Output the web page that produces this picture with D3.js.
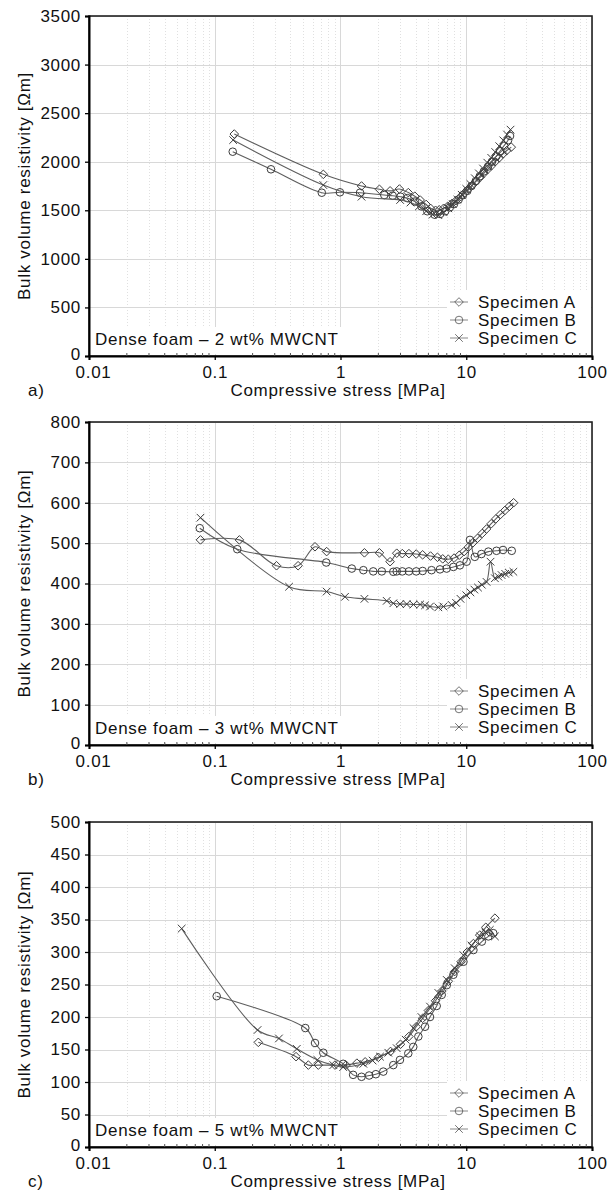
<!DOCTYPE html>
<html>
<head>
<meta charset="utf-8">
<script src="https://cdn.jsdelivr.net/npm/d3@7"></script>
<style>
  body { margin: 0; background: #fff; }
  svg text { font-family: "Liberation Sans", Arial, Helvetica, sans-serif; font-size: 17px; letter-spacing: 0.7px; fill: #111; }
</style>
</head>
<body>
<div id="chart"></div>
<script>
// x tick labels (log axis)
var xTicks = [0.01, 0.1, 1, 10, 100];
var xTickLabels = ["0.01", "0.1", "1", "10", "100"];
var seriesNames = ["Specimen A", "Specimen B", "Specimen C"];

// panel a) 2 wt%
var a_xA = [0.143, 0.73, 1.47, 2.04, 2.48, 2.94, 3.46, 3.9, 4.3, 4.8, 5.2, 5.7, 6.1, 6.6, 7.1, 7.7, 8.3, 9.0, 9.7, 10.4, 11.2, 12.0, 12.9, 13.8, 14.8, 15.9, 17.0, 18.3, 19.6, 21.0, 22.8];
var a_yA = [2285, 1870, 1750, 1716, 1700, 1719, 1682, 1645, 1606, 1560, 1520, 1500, 1505, 1520, 1540, 1570, 1600, 1640, 1680, 1720, 1760, 1800, 1840, 1880, 1920, 1960, 2000, 2040, 2080, 2115, 2150];
var a_xB = [0.139, 0.28, 0.71, 0.99, 1.43, 2.23, 2.6, 3.0, 3.4, 3.9, 4.4, 4.9, 5.6, 6.2, 6.8, 7.4, 8.0, 8.7, 9.4, 10.2, 11.0, 11.9, 12.8, 13.8, 14.9, 16.0, 17.3, 18.6, 20.0, 21.5, 22.3];
var a_yB = [2103, 1922, 1681, 1685, 1681, 1657, 1650, 1640, 1625, 1590, 1540, 1490, 1455, 1462, 1490, 1530, 1565, 1610, 1655, 1700, 1750, 1800, 1850, 1900, 1950, 2000, 2055, 2110, 2165, 2220, 2265];
var a_xC = [0.14, 0.73, 1.47, 2.98, 3.6, 4.2, 4.8, 5.4, 6.0, 6.6, 7.2, 7.8, 8.5, 9.2, 10.0, 10.8, 11.7, 12.6, 13.6, 14.7, 15.8, 17.0, 18.3, 19.7, 21.1, 22.5];
var a_yC = [2223, 1760, 1640, 1606, 1580, 1540, 1490, 1455, 1450, 1480, 1520, 1565, 1610, 1660, 1720, 1770, 1830, 1880, 1930, 1990, 2040, 2100, 2160, 2220, 2280, 2330];

// panel b) 3 wt%
var b_xA = [0.077, 0.157, 0.31, 0.46, 0.627, 0.776, 1.55, 2.04, 2.48, 2.8, 3.1, 3.5, 4.0, 4.5, 5.2, 5.9, 6.5, 7.2, 8.0, 8.8, 9.6, 10.4, 11.3, 12.3, 13.4, 14.5, 15.8, 17.2, 18.7, 20.3, 22.0, 23.8];
var b_yA = [508, 508, 444, 444, 491, 479, 476, 476, 454, 475, 474, 474, 473, 471, 468, 465, 461, 460, 463, 470, 479, 490, 501, 512, 524, 535, 548, 560, 571, 581, 591, 600];
var b_xB = [0.076, 0.151, 0.77, 1.23, 1.52, 1.82, 2.13, 2.63, 2.8, 3.1, 3.5, 4.0, 4.5, 5.3, 6.18, 6.98, 7.9, 8.9, 10.07, 10.7, 11.7, 13.2, 15.0, 17.4, 19.6, 23.0];
var b_yB = [537, 485, 452, 437, 433, 430, 430, 429, 430, 430, 430, 430, 431, 433, 435, 437, 441, 445, 454, 508, 466, 473, 479, 481, 483, 481];
var b_xC = [0.077, 0.39, 0.776, 1.086, 1.55, 2.33, 2.63, 2.98, 3.36, 3.8, 4.3, 4.7, 5.15, 6.0, 6.58, 7.66, 8.3, 9.0, 10.0, 10.8, 11.6, 12.4, 13.3, 14.5, 15.6, 16.9, 18.0, 19.1, 20.4, 21.8, 23.7];
var b_yC = [563, 392, 380, 367, 362, 357, 351, 349, 349, 348, 348, 346, 343, 341, 343, 347, 352, 362, 371, 378, 385, 390, 397, 404, 454, 413, 417, 421, 424, 427, 429];

// panel c) 5 wt%
var c_xA = [0.222, 0.443, 0.555, 0.666, 0.904, 1.106, 1.35, 1.57, 2.0, 2.5, 3.0, 3.5, 4.0, 4.5, 5.0, 5.7, 6.4, 7.2, 8.1, 9.1, 10.2, 11.4, 12.8, 14.3, 16.9];
var c_yA = [161, 139, 126, 126, 126, 126, 129, 131, 138, 147, 158, 170, 185, 198, 210, 225, 240, 255, 270, 285, 300, 313, 326, 338, 352];
var c_xB = [0.1036, 0.525, 0.627, 0.73, 1.05, 1.26, 1.47, 1.69, 1.91, 2.19, 2.63, 2.97, 3.46, 3.79, 4.16, 4.7, 5.15, 5.82, 6.38, 7.0, 7.9, 9.5, 11.4, 13.3, 15.0, 16.4];
var c_yB = [232, 183, 160, 145, 128, 111, 108, 110, 112, 116, 126, 134, 144, 154, 170, 185, 200, 217, 234, 249, 265, 285, 303, 316, 324, 329];
var c_xC = [0.0546, 0.219, 0.324, 0.449, 0.655, 0.877, 1.05, 1.52, 1.8, 2.06, 2.4, 2.8, 3.3, 3.8, 4.4, 5.15, 6.0, 7.0, 8.1, 9.5, 11.0, 12.9, 14.2, 15.4, 16.9];
var c_yC = [336, 180, 167, 151, 134, 126, 123, 128, 133, 139, 145, 152, 165, 183, 200, 216, 237, 257, 275, 295, 310, 324, 330, 334, 324];

var panels = [
  { top: 16, bottom: 356, yMax: 3500, yStep: 500, tag: "a)", note: "Dense foam \u2013 2 wt% MWCNT",
    series: [[a_xA, a_yA], [a_xB, a_yB], [a_xC, a_yC]] },
  { top: 422, bottom: 745, yMax: 800, yStep: 100, tag: "b)", note: "Dense foam \u2013 3 wt% MWCNT",
    series: [[b_xA, b_yA], [b_xB, b_yB], [b_xC, b_yC]] },
  { top: 822, bottom: 1147, yMax: 500, yStep: 50, tag: "c)", note: "Dense foam \u2013 5 wt% MWCNT",
    series: [[c_xA, c_yA], [c_xB, c_yB], [c_xC, c_yC]] }
];

var width = 612, height = 1196;
var left = 89, right = 592;
var lineColor = "#5e5e5e", markColor = "#3c3c3c";

var svg = d3.select("#chart").append("svg")
    .attr("width", width)
    .attr("height", height);

var x = d3.scaleLog().domain([0.01, 100]).range([left, right]);

// minor positions 2..9 per decade
var minorX = [];
[0.01, 0.1, 1, 10].forEach(function (d) {
    for (var k = 2; k <= 9; k++) minorX.push(d * k);
});

function drawMarker(g, type, cx, cy) {
    if (type === 0) {
        g.append("path")
            .attr("d", "M" + cx + "," + (cy - 4.3) + "L" + (cx + 4.3) + "," + cy + "L" + cx + "," + (cy + 4.3) + "L" + (cx - 4.3) + "," + cy + "Z")
            .attr("fill", "none").attr("stroke", markColor).attr("stroke-width", 1);
    } else if (type === 1) {
        g.append("circle").attr("cx", cx).attr("cy", cy).attr("r", 3.8)
            .attr("fill", "none").attr("stroke", markColor).attr("stroke-width", 1);
    } else {
        g.append("path")
            .attr("d", "M" + (cx - 3.8) + "," + (cy - 3.8) + "L" + (cx + 3.8) + "," + (cy + 3.8) + "M" + (cx - 3.8) + "," + (cy + 3.8) + "L" + (cx + 3.8) + "," + (cy - 3.8))
            .attr("fill", "none").attr("stroke", markColor).attr("stroke-width", 1);
    }
}

function styleAxis(ax) {
    ax.attr("font-size", null).attr("font-family", null);
    ax.select(".domain").attr("stroke", "#000").attr("stroke-width", 2);
    ax.selectAll("line").attr("stroke", "#000").attr("stroke-width", 1.3);
    ax.selectAll("text").style("font-size", "17px").attr("fill", "#111");
}

panels.forEach(function (p) {
    var y = d3.scaleLinear().domain([0, p.yMax]).range([p.bottom, p.top]);
    var yTicks = d3.range(0, p.yMax + 1, p.yStep);
    var g = svg.append("g");

    // grid
    g.selectAll(".minor").data(minorX).enter().append("line")
        .attr("x1", function (d) { return Math.round(x(d)) + 0.5; })
        .attr("x2", function (d) { return Math.round(x(d)) + 0.5; })
        .attr("y1", p.top).attr("y2", p.bottom)
        .attr("stroke", "#e0e0e0").attr("stroke-dasharray", "1,2");
    g.selectAll(".major").data(xTicks).enter().append("line")
        .attr("x1", function (d) { return Math.round(x(d)) + 0.5; })
        .attr("x2", function (d) { return Math.round(x(d)) + 0.5; })
        .attr("y1", p.top).attr("y2", p.bottom)
        .attr("stroke", "#d8d8d8");
    g.selectAll(".hgrid").data(yTicks).enter().append("line")
        .attr("x1", left).attr("x2", right)
        .attr("y1", function (d) { return Math.round(y(d)) + 0.5; })
        .attr("y2", function (d) { return Math.round(y(d)) + 0.5; })
        .attr("stroke", "#d8d8d8");

    // note and legend backgrounds
    g.append("rect").attr("x", left + 2).attr("y", p.bottom - 29)
        .attr("width", 252).attr("height", 27).attr("fill", "#fff");
    g.append("rect").attr("x", 447).attr("y", p.bottom - 66)
        .attr("width", right - 448).attr("height", 64).attr("fill", "#fff");

    // series
    var line = d3.line()
        .x(function (d) { return x(d[0]); })
        .y(function (d) { return y(d[1]); })
        .curve(d3.curveCatmullRom.alpha(0.5));

    p.series.forEach(function (s, i) {
        var pts = s[0].map(function (v, j) { return [v, s[1][j]]; });
        g.append("path").datum(pts)
            .attr("d", line)
            .attr("fill", "none")
            .attr("stroke", lineColor)
            .attr("stroke-width", 1.1);
        var mg = g.append("g");
        pts.forEach(function (d) { drawMarker(mg, i, x(d[0]), y(d[1])); });
    });

    // frame
    g.append("rect").attr("x", left).attr("y", p.top)
        .attr("width", right - left).attr("height", p.bottom - p.top)
        .attr("fill", "none").attr("stroke", "#222").attr("stroke-width", 1.6);

    // axes
    var yAxis = d3.axisLeft(y).tickValues(yTicks).tickSize(4).tickPadding(4).tickFormat(d3.format("d"));
    var ya = g.append("g").attr("transform", "translate(" + left + ",0)").call(yAxis);
    styleAxis(ya);
    // the zero label sits a touch higher, clear of the x labels
    ya.selectAll("text").filter(function (d) { return d === 0; }).attr("dy", "0.2em");

    var xAxis = d3.axisBottom(x).tickValues(xTicks).tickSize(4).tickPadding(6)
        .tickFormat(function (d, i) { return xTickLabels[i]; });
    var xa = g.append("g").attr("transform", "translate(0," + p.bottom + ")").call(xAxis);
    styleAxis(xa);
    xa.selectAll("text").filter(function (d) { return d === 0.01; }).attr("x", 4);

    // minor ticks inside bottom axis
    g.selectAll(".mt").data(minorX).enter().append("line")
        .attr("x1", function (d) { return x(d); }).attr("x2", function (d) { return x(d); })
        .attr("y1", p.bottom - 3).attr("y2", p.bottom)
        .attr("stroke", "#555");

    // annotation
    g.append("text").attr("x", 95).attr("y", p.bottom - 11).text(p.note);

    // legend
    seriesNames.forEach(function (name, i) {
        var cy = p.bottom - 54 + i * 18;
        g.append("line").attr("x1", 450).attr("x2", 468).attr("y1", cy).attr("y2", cy)
            .attr("stroke", "#888");
        var lg = g.append("g").attr("opacity", 0.7);
        drawMarker(lg, i, 459, cy);
        g.append("text").attr("x", 478).attr("y", cy + 6).text(name);
    });

    // titles
    g.append("text").attr("x", 338).attr("y", p.bottom + 40)
        .attr("text-anchor", "middle").text("Compressive stress [MPa]");
    g.append("text")
        .attr("transform", "translate(30," + ((p.top + p.bottom) / 2) + ") rotate(-90)")
        .attr("text-anchor", "middle").text("Bulk volume resistivity [\u03a9m]");
    g.append("text").attr("x", 28).attr("y", p.bottom + 40).text(p.tag);
});
</script>
</body>
</html>
